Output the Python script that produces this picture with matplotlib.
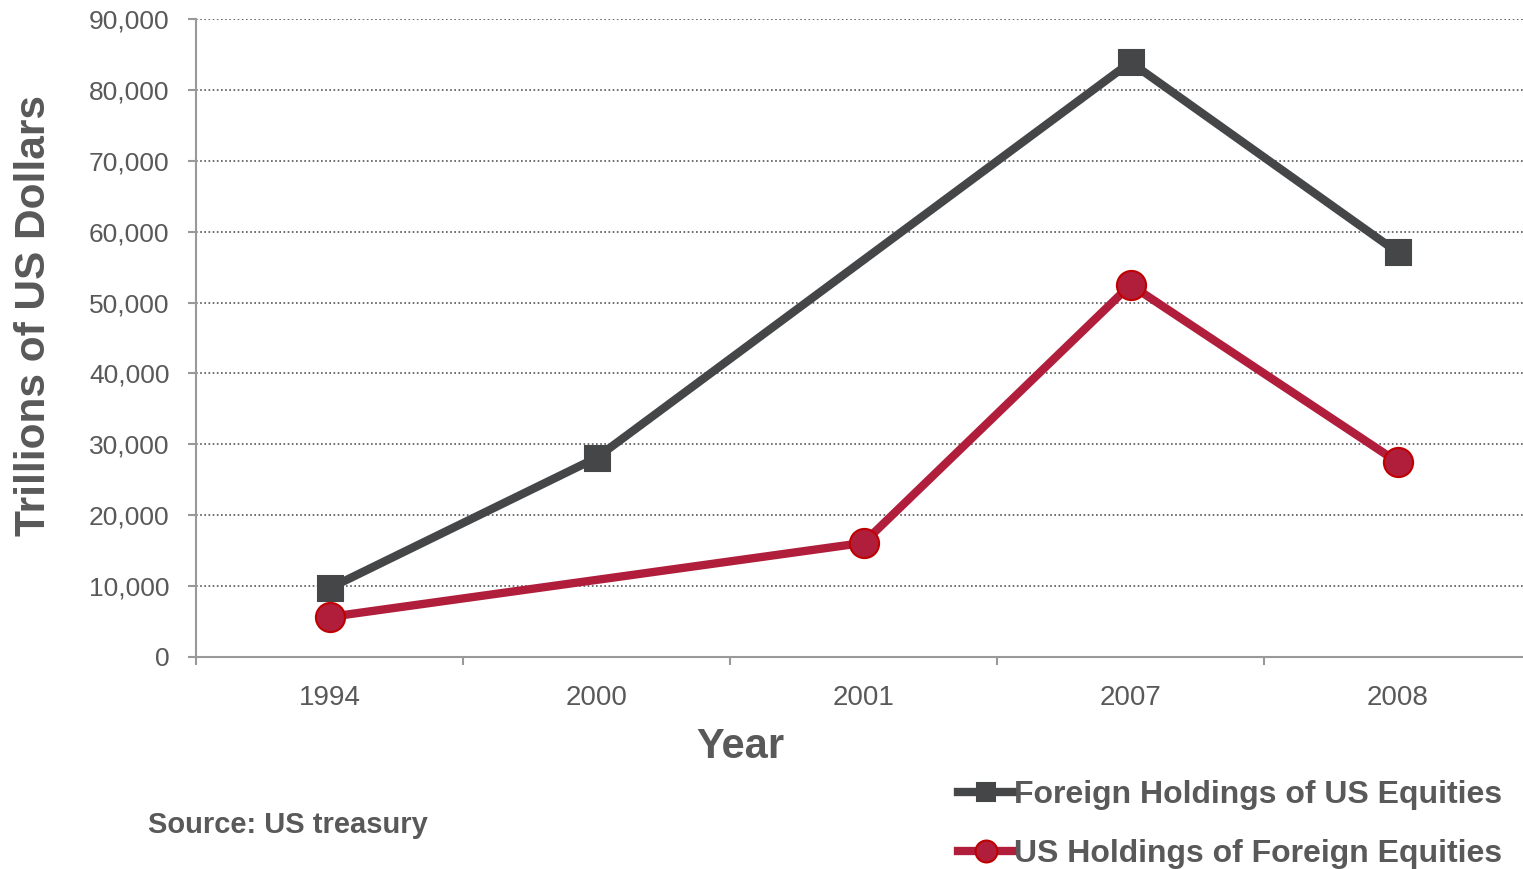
"""
plot.py

Foreign holdings of US equities vs US holdings of foreign equities.
"""

import numpy as np
import matplotlib.pyplot as plt
import matplotlib.ticker as mtick

years = ["1994", "2000", "2001", "2007", "2008"]
foreign_holdings = [9700, 28100, np.nan, 83900, 57100]
us_holdings = [5650, np.nan, 16100, 52500, 27500]

DARK = "#454648"
RED = "#B01E3C"
TEXT = "#595959"

plt.rcParams["font.family"] = ["Liberation Sans", "DejaVu Sans"]


def thousands(x, pos):
    return "{:,.0f}".format(x)


fig = plt.figure(figsize=(15.23, 8.69), dpi=100)
W, H = 1523, 869
ax = fig.add_axes([196 / W, (H - 657) / H, 1335 / W, (657 - 19) / H])

x = np.arange(len(years))
for values, color, marker, size, edge, label in [
    (foreign_holdings, DARK, "s", 18, DARK, "Foreign Holdings of US Equities"),
    (us_holdings, RED, "o", 21, "#C00000", "US Holdings of Foreign Equities"),
]:
    values = np.array(values, dtype=float)
    mask = ~np.isnan(values)
    ax.plot(
        x[mask],
        values[mask],
        color=color,
        linewidth=6.0,
        marker=marker,
        markersize=size,
        markerfacecolor=color,
        markeredgecolor=edge,
        markeredgewidth=1.5,
        label=label,
        zorder=3,
        clip_on=False,
    )

ax.set_xlim(-0.5, -0.5 + 1335 / 267)
ax.set_ylim(0, 90000)
ax.set_yticks(np.arange(0, 90001, 10000))
ax.yaxis.set_major_formatter(mtick.FuncFormatter(thousands))
ax.set_xticks(x)
ax.set_xticklabels(years)
ax.set_xticks(np.arange(-0.5, 5, 1), minor=True)
ax.tick_params(axis="x", which="major", length=0, pad=20, labelsize=20, labelcolor=TEXT)
ax.tick_params(axis="x", which="minor", length=6, width=1.5, color="#999999")
ax.tick_params(axis="y", length=6, width=1.5, color="#999999", labelsize=19, labelcolor=TEXT, pad=13)

ax.grid(axis="y", linestyle=(0, (1, 1.5)), color="#555555", linewidth=1.2)
ax.set_axisbelow(True)
for side in ["top", "right"]:
    ax.spines[side].set_visible(False)
for side in ["left", "bottom"]:
    ax.spines[side].set_color("#999999")
    ax.spines[side].set_linewidth(1.5)

fig.text(740 / W, 1 - 747 / H, "Year", fontsize=30, fontweight="bold",
         color=TEXT, ha="center", va="center")
fig.text(34 / W, 1 - 316 / H, "Trillions of US Dollars", rotation=90,
         fontsize=30.5, fontweight="bold", color=TEXT, ha="center", va="center")

fig.text(148 / W, 1 - 825 / H, "Source: US treasury", fontsize=21,
         fontweight="bold", color=TEXT, ha="left", va="center")

leg = fig.legend(
    loc="upper left",
    bbox_to_anchor=(958 / W, 1 - 780 / H),
    borderaxespad=0,
    borderpad=0,
    frameon=False,
    prop={"size": 23, "weight": "bold"},
    labelcolor=TEXT,
    handlelength=1.75,
    handletextpad=0.0,
    labelspacing=0.9,
    markerscale=0.75,
)

fig.savefig("out.png", dpi=100)
